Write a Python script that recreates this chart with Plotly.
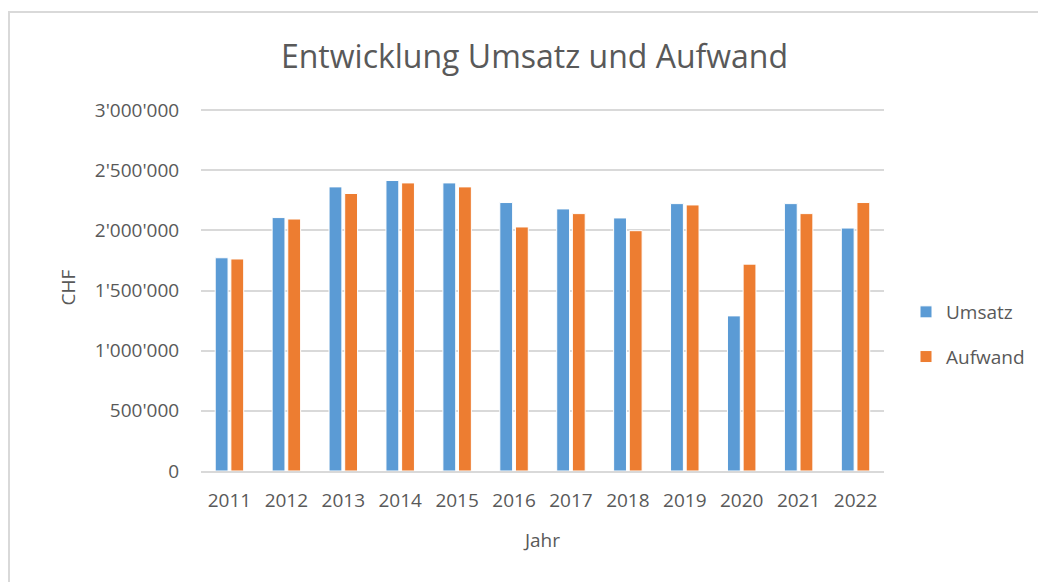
import plotly.graph_objects as go

years = ["2011", "2012", "2013", "2014", "2015", "2016", "2017", "2018", "2019", "2020", "2021", "2022"]
umsatz = [1772000, 2106000, 2361000, 2414000, 2394000, 2231000, 2178000, 2103000, 2222000, 1289000, 2222000, 2019000]
aufwand = [1762000, 2094000, 2306000, 2394000, 2361000, 2028000, 2139000, 1997000, 2211000, 1719000, 2139000, 2231000]
y_tickvals = [0, 500000, 1000000, 1500000, 2000000, 2500000, 3000000]
y_ticktext = ["0", "500'000", "1'000'000", "1'500'000", "2'000'000", "2'500'000", "3'000'000"]

OFF = 8  # page body margin
W, H = 1046 - OFF, 582 - OFF
PL, PR, PT, PB = 201, 884, 104, 471  # plot area in screen pixels
L, T = PL - OFF, PT - OFF
R, B = W - (PR - OFF), H - (PB - OFF)
pw, ph = PR - PL, PB - PT
YMAX = 3000000 * (PB - PT) / (PB - 110)  # 3'000'000 gridline sits at screen y=110

def px_x(p):
    return (p - PL) / pw

def px_y(p):
    return (PB - p) / ph

FONT = "Open Sans"
GREY = "#595959"
LINE = "#d9d9d9"

fig = go.Figure()
fig.add_trace(go.Bar(name="Umsatz", x=years, y=umsatz, marker=dict(color="#5B9BD5", line=dict(color="white", width=1)), legendgroup="a"))
fig.add_trace(go.Bar(name="Aufwand", x=years, y=aufwand, marker=dict(color="#ED7D31", line=dict(color="white", width=1)), legendgroup="b"))

fig.update_layout(
    width=W, height=H,
    margin=dict(l=L, r=R, t=T, b=B),
    paper_bgcolor="white", plot_bgcolor="white",
    barmode="group", bargap=0.45, bargroupgap=0.18,
    font=dict(family=FONT, color=GREY, size=19),
    title=dict(text="Entwicklung Umsatz und Aufwand", x=px_x(534.5), xref="paper", xanchor="center",
               y=1 - (57 - OFF) / H, yref="container", yanchor="middle",
               font=dict(family=FONT, size=32, color=GREY)),
    legend=dict(x=px_x(906), y=px_y(293), xanchor="left", yanchor="top",
                font=dict(family=FONT, size=19, color=GREY), traceorder="grouped", tracegroupgap=17,
                bgcolor="rgba(0,0,0,0)"),
    xaxis=dict(showgrid=False, showline=True, linecolor=LINE, linewidth=2,
               ticks="outside", ticklen=11, tickcolor="rgba(0,0,0,0)",
               tickfont=dict(family=FONT, size=19, color=GREY),
               title=dict(text="Jahr", font=dict(family=FONT, size=19, color=GREY), standoff=22)),
    yaxis=dict(range=[0, YMAX], tickvals=y_tickvals, ticktext=y_ticktext,
               showgrid=True, gridcolor=LINE, gridwidth=2, zeroline=False, showline=False,
               ticks="outside", ticklen=17, tickcolor="rgba(0,0,0,0)",
               tickfont=dict(family=FONT, size=19, color=GREY),
               title=dict(text="CHF", font=dict(family=FONT, size=19, color=GREY), standoff=14)),
    shapes=[dict(type="rect", xref="paper", yref="paper",
                 x0=px_x(9), x1=px_x(1070), y0=px_y(620), y1=px_y(12),
                 line=dict(color=LINE, width=2), fillcolor="rgba(0,0,0,0)", layer="below")],
)

fig.write_html("out.html")
